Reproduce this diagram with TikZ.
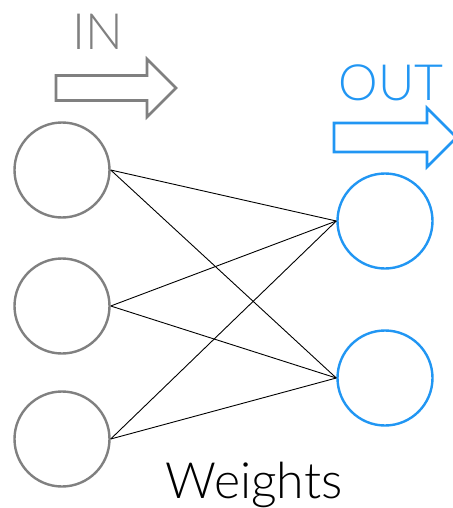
\documentclass[tikz,border=0pt]{standalone}
\usepackage{fontspec}
\setmainfont{Lato Light}
\usetikzlibrary{positioning}
\definecolor{ingray}{HTML}{808080}
\definecolor{outblue}{HTML}{2196F3}

\tikzset{
  neuron/.style={circle,draw,line width=2.4pt,minimum size=95pt,inner sep=0pt},
  weight/.style={line width=0.9pt,black},
  fatarrow/.style={line width=2.6pt,line join=miter},
  biglabel/.style={font=\fontsize{50}{50}\selectfont,inner sep=0pt},
}

\begin{document}
\begin{tikzpicture}[x=1pt,y=-1pt]
  \useasboundingbox (0,0) rectangle (452,508);
  % input layer
  \foreach \i/\y in {1/170,2/306,3/439}
    \node[neuron,ingray] (in\i) at (62,\y) {};
  % output layer
  \foreach \j/\y in {1/221,2/378}
    \node[neuron,outblue] (out\j) at (385,\y) {};
  % every input feeds every output
  \foreach \i in {1,2,3}
    \foreach \j in {1,2}
      \draw[weight] (in\i.east) -- (out\j.west);
  % labels
  \node[biglabel,ingray] (intext) at (98,31.5) {IN};
  \node[biglabel,outblue] (outtext) at (391,82.5) {OUT};
  \node[biglabel,anchor=base] (wtext) at (254,498) {Weights};
  % direction arrows
  \draw[fatarrow,ingray] (56,75.5) -- (147,75.5) -- (147,59) -- (176,88)
    -- (147,117) -- (147,100.5) -- (56,100.5) -- cycle;
  \draw[fatarrow,outblue] (334,123) -- (427,123) -- (427,108) -- (456.5,137.5)
    -- (427,167) -- (427,152) -- (334,152) -- cycle;
\end{tikzpicture}
\end{document}
